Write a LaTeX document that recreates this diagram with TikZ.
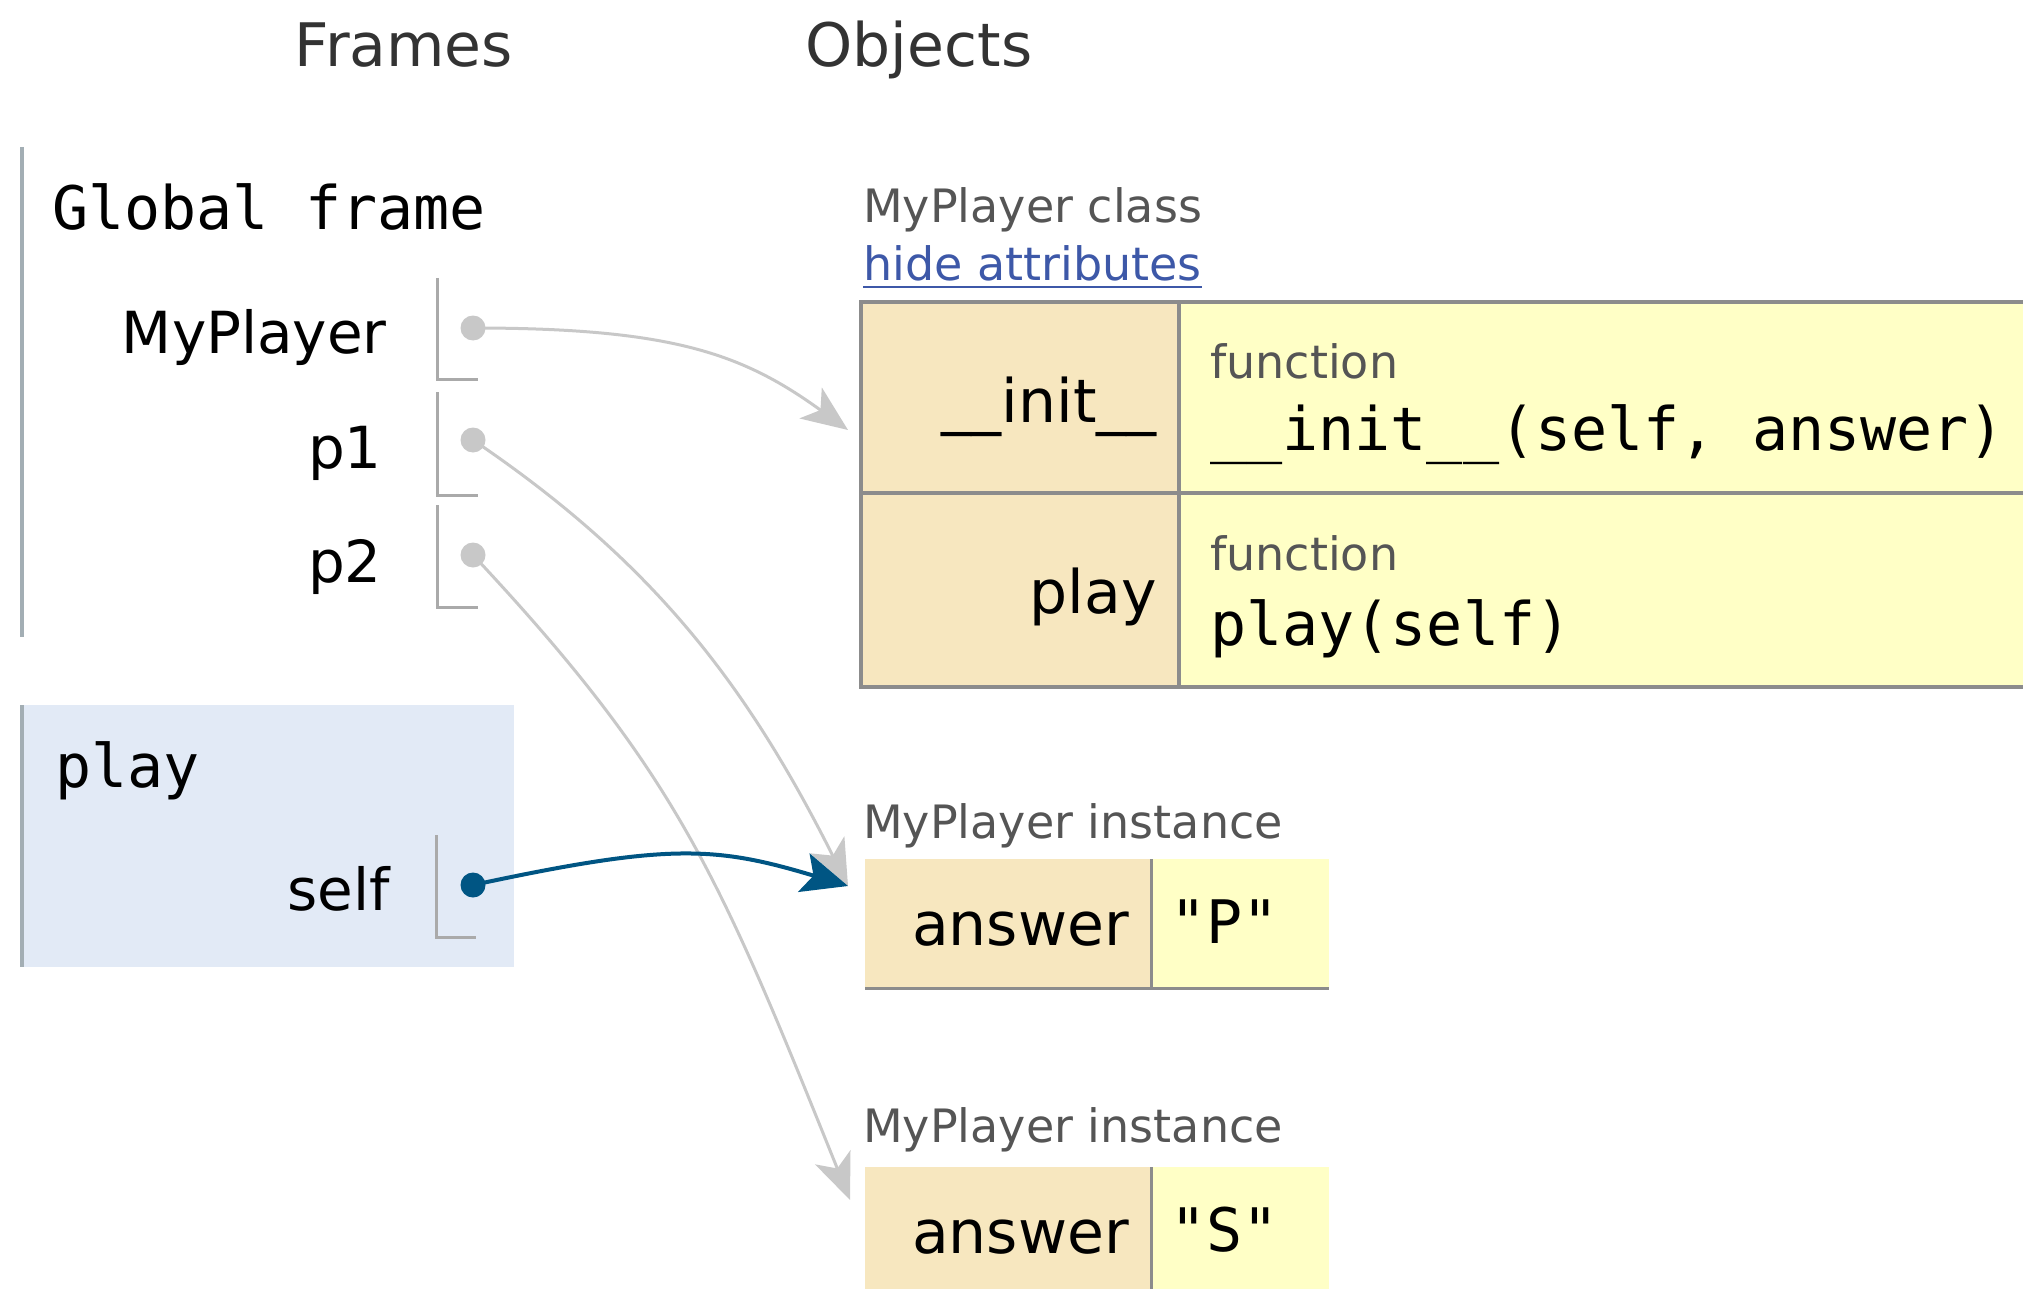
\documentclass[tikz,border=0pt]{standalone}
\usepackage{fontspec}
\setmainfont{DejaVu Sans}
\setmonofont{DejaVu Sans Mono}
\usetikzlibrary{arrows.meta}

\definecolor{headgray}{HTML}{333333}
\definecolor{labelgray}{HTML}{555555}
\definecolor{barcolor}{HTML}{A3AEB4}
\definecolor{framebg}{HTML}{E2EAF6}
\definecolor{slotgray}{HTML}{AAAAAA}
\definecolor{ptrgray}{HTML}{C8C8C8}
\definecolor{ptrblue}{HTML}{005583}
\definecolor{keybg}{HTML}{F7E7BF}
\definecolor{valbg}{HTML}{FFFFC6}
\definecolor{tablegray}{HTML}{8C8C8C}
\definecolor{linkblue}{HTML}{3D58A8}

\begin{document}
\begin{tikzpicture}[x=1pt, y=-1pt,
  head/.style={inner sep=0pt, anchor=base, text=headgray, font=\fontsize{60}{72}\selectfont},
  framename/.style={inner sep=0pt, anchor=base west, font=\ttfamily\fontsize{60}{72}\selectfont},
  varname/.style={inner sep=0pt, anchor=base east, font=\fontsize{58}{70}\selectfont},
  objlabel/.style={inner sep=0pt, anchor=base west, text=labelgray, font=\fontsize{46}{55}\selectfont},
  keytext/.style={inner sep=0pt, anchor=base east, font=\fontsize{60}{72}\selectfont},
  codetext/.style={inner sep=0pt, anchor=base west, font=\ttfamily\fontsize{60}{72}\selectfont},
  framebar/.style={draw=barcolor, line width=4pt},
  slotline/.style={draw=slotgray, line width=3pt},
  tableline/.style={draw=tablegray, line width=4pt},
  cellline/.style={draw=tablegray, line width=3pt},
  ptrdot/.style={circle, fill=ptrgray, inner sep=0pt, minimum size=25pt},
  activedot/.style={circle, fill=ptrblue, inner sep=0pt, minimum size=25pt},
  ptr/.style={draw=ptrgray, line width=3pt, -{Stealth[length=46pt, width=38pt, inset=12pt]}},
  activeptr/.style={draw=ptrblue, line width=4pt, -{Stealth[length=46pt, width=40pt, inset=10pt]}}
]
\useasboundingbox (0,0) rectangle (2023,1289);
\path[clip] (0,0) rectangle (2023,1289);

% column headings
\node[head] (hFrames) at (404,67) {Frames};
\node[head] (hObjects) at (919,67) {Objects};

% global frame
\draw[framebar] (22,147) -- (22,637);
\node[framename] (gName) at (52,230) {Global frame};
\node[varname] (vMy) at (387,353) {MyPlayer};
\node[varname] (vP1) at (382,468) {p1};
\node[varname] (vP2) at (382,582) {p2};
\draw[slotline] (437,278) |- (478,379);
\draw[slotline] (437,392) |- (478,495);
\draw[slotline] (437,505) |- (478,607);
\node[ptrdot] (dMy) at (473,328) {};
\node[ptrdot] (dP1) at (473,440) {};
\node[ptrdot] (dP2) at (473,555) {};

% active frame: play
\fill[framebg] (20,705) rectangle (514,967);
\draw[framebar] (22,705) -- (22,967);
\node[framename] (fPlay) at (55,787) {play};
\node[varname] (vSelf) at (390,910) {self};
\draw[slotline] (436,835) |- (476,937);
\node[activedot] (dSelf) at (473,885) {};

% class object
\node[objlabel] (clsLbl) at (863,223) {MyPlayer class};
\node[objlabel, text=linkblue] (hide) at (863,280) {hide attributes};
\draw[linkblue, line width=2pt] ([yshift=-7pt]hide.base west) -- ([yshift=-7pt]hide.base east);

\fill[keybg] (861,302) rectangle (1179,687);
\fill[valbg] (1179,302) rectangle (2040,687);
\draw[tableline] (2040,302) -- (861,302) -- (861,687) -- (2040,687);
\draw[tableline] (861,493) -- (2040,493);
\draw[tableline] (1179,302) -- (1179,687);

\node[keytext] (kInit) at (1157,422) {\_\_init\_\_};
\node[objlabel] (fn1) at (1210,378) {function};
\node[codetext] (sig1) at (1210,450) {\_\_init\_\_(self, answer)};
\node[keytext] (kPlay) at (1157,613) {play};
\node[objlabel] (fn2) at (1210,570) {function};
\node[codetext] (sig2) at (1210,645) {play(self)};

% first instance
\node[objlabel] (i1Lbl) at (863,838) {MyPlayer instance};
\fill[keybg] (865,859) rectangle (1150,989);
\fill[valbg] (1150,859) rectangle (1329,989);
\draw[cellline] (1151,859) -- (1151,989);
\draw[cellline] (865,988) -- (1329,988);
\node[keytext] (i1Key) at (1129,945) {answer};
\node[codetext] (i1Val) at (1170,943) {"P"};

% second instance
\node[objlabel] (i2Lbl) at (863,1142) {MyPlayer instance};
\fill[keybg] (865,1167) rectangle (1150,1300);
\fill[valbg] (1150,1167) rectangle (1329,1300);
\draw[cellline] (1151,1167) -- (1151,1300);
\node[keytext] (i2Key) at (1129,1253) {answer};
\node[codetext] (i2Val) at (1170,1251) {"S"};

% arrow targets
\coordinate (tCls) at (848,430);
\coordinate (tInst1) at (848,886);
\coordinate (tInst2) at (850,1200);

% references
\draw[ptr] (dMy.center) .. controls (673,328) and (743,354) .. (tCls);
\draw[ptr] (dP1.center) .. controls (655,563) and (748,687) .. (tInst1);
\draw[ptr] (dP2.center) .. controls (678,774) and (719,875) .. (tInst2);
\draw[activeptr] (dSelf.center) .. controls (669,843) and (715,846) .. (tInst1);
\end{tikzpicture}
\end{document}
